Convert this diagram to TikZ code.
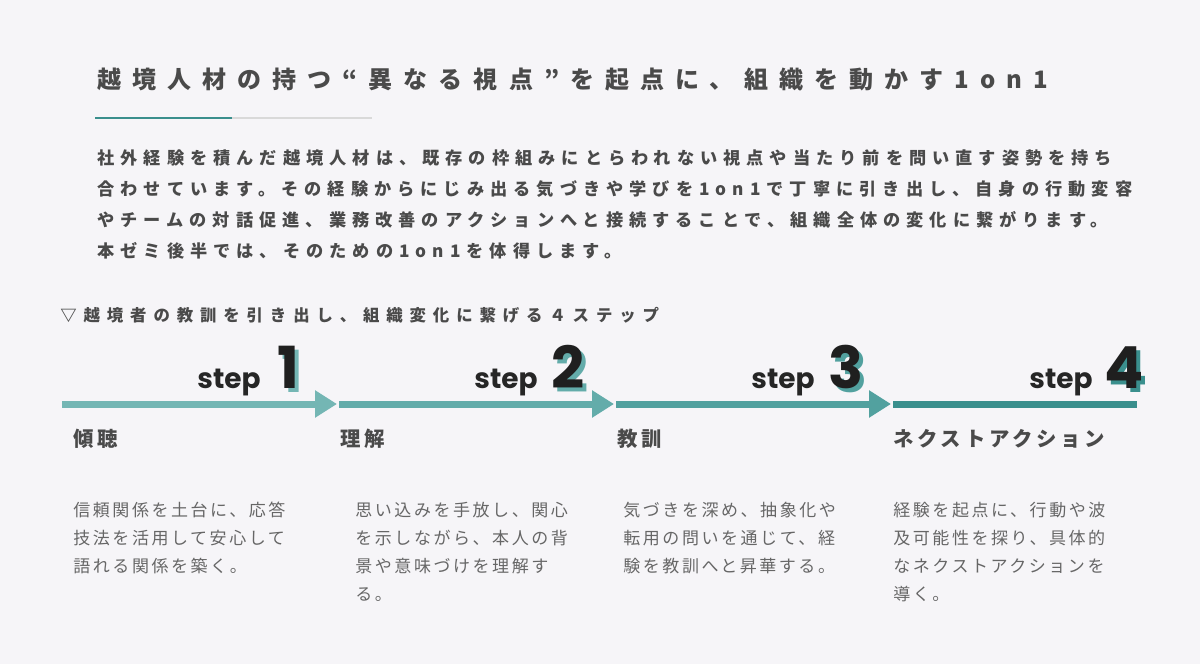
\documentclass[tikz,border=0pt]{standalone}
\usepackage{fontspec}
\setmainfont{Noto Sans CJK JP}
\newfontfamily\jp{Noto Sans CJK JP}
\newfontfamily\stepfont{Poppins}
\usetikzlibrary{arrows.meta}
\definecolor{bg}{HTML}{F6F5F8}
\definecolor{ink}{HTML}{4A4A4A}
\definecolor{soft}{HTML}{666666}
\definecolor{tealA}{HTML}{74B6B4}
\definecolor{tealB}{HTML}{63ACAA}
\definecolor{tealC}{HTML}{52A19F}
\definecolor{tealD}{HTML}{3A8F8D}
\tikzset{
    flow/.style={line width=3.5pt, -{Triangle[length=11pt,width=13pt]}},
    stepword/.style={anchor=base west, font=\stepfont\bfseries\fontsize{14}{14}\selectfont, text=black!85},
    stepnum/.style={anchor=base west, font=\stepfont\bfseries\fontsize{29}{29}\selectfont},
    head/.style={anchor=base west, font=\jp\bfseries\fontsize{10.2}{10}\selectfont\addfontfeature{LetterSpace=18}, text=ink},
    body/.style={anchor=north west, align=left, font=\jp\fontsize{8.5}{14}\selectfont\addfontfeature{LetterSpace=15}, text=soft},
    lead/.style={anchor=base west, font=\jp\bfseries\fontsize{8.6}{8.6}\selectfont\addfontfeature{LetterSpace=35}, text=ink}
}
\begin{document}
\begin{tikzpicture}[x=0.5pt, y=-0.5pt]
    \fill[bg](0, 0)rectangle(1200, 664);
    % title
    \node[anchor=base west, inner sep=0, font=\jp\bfseries\fontsize{12}{12}\selectfont\addfontfeature{LetterSpace=46}, text=ink](title)at(97, 88){越境人材の持つ“異なる視点”を起点に、組織を動かす1on1};
    \coordinate(u0)at(95, 118);
    \coordinate(u1)at(232, 118);
    \coordinate(u2)at(372, 118);
    \draw[black!15, line width=0.8pt](u1)--(u2);
    \draw[tealD, line width=1.2pt](u0)--(u1);
    % lead text
    \node[lead, inner sep=0](lead1)at(97, 164){社外経験を積んだ越境人材は、既存の枠組みにとらわれない視点や当たり前を問い直す姿勢を持ち};
    \node[lead, inner sep=0](lead2)at(97, 195){合わせています。その経験からにじみ出る気づきや学びを1on1で丁寧に引き出し、自身の行動変容};
    \node[lead, inner sep=0](lead3)at(97, 226){やチームの対話促進、業務改善のアクションへと接続することで、組織全体の変化に繋がります。};
    \node[lead, inner sep=0](lead4)at(97, 257){本ゼミ後半では、そのための1on1を体得します。};
    \node[anchor=base west, inner sep=0, font=\jp\bfseries\fontsize{8.2}{8.2}\selectfont\addfontfeature{LetterSpace=42}, text=ink](sub)at(60, 321){▽越境者の教訓を引き出し、組織変化に繋げる４ステップ};
    % arrows
    \coordinate(a0)at(62, 404);
    \coordinate(a1)at(337, 404);
    \coordinate(a2)at(614, 404);
    \coordinate(a3)at(891, 404);
    \coordinate(a4)at(1137, 404);
    \draw[flow, tealA](a0)--(a1);
    \draw[flow, tealB]([xshift=1pt]a1)--(a2);
    \draw[flow, tealC]([xshift=1pt]a2)--(a3);
    \draw[line width=3.5pt, tealD]([xshift=1pt]a3)--(a4);
    % step marks
    \foreach \n/\sx/\nx/\c in {1/197/277/tealA, 2/474/551/tealB, 3/751/828/tealC, 4/1029/1104/tealD}{
        \node[stepword, inner sep=0](w\n)at(\sx, 388){step};
        \node[stepnum, inner sep=0, text=\c](s\n)at(\nx+4, 392){\n};
        \node[stepnum, inner sep=0, text=black!88](n\n)at(\nx, 388){\n};
    }
    % step heads
    \node[head, inner sep=0](h1)at(73, 446){傾聴};
    \node[head, inner sep=0](h2)at(340, 446){理解};
    \node[head, inner sep=0](h3)at(617, 446){教訓};
    \node[head, inner sep=0](h4)at(893, 446){ネクストアクション};
    % step bodies
    \node[body, inner sep=0](b1)at(73, 502){信頼関係を土台に、応答\\技法を活用して安心して\\語れる関係を築く。};
    \node[body, inner sep=0](b2)at(355, 502){思い込みを手放し、関心\\を示しながら、本人の背\\景や意味づけを理解す\\る。};
    \node[body, inner sep=0](b3)at(623, 502){気づきを深め、抽象化や\\転用の問いを通じて、経\\験を教訓へと昇華する。};
    \node[body, inner sep=0](b4)at(893, 502){経験を起点に、行動や波\\及可能性を探り、具体的\\なネクストアクションを\\導く。};
\end{tikzpicture}
\end{document}
